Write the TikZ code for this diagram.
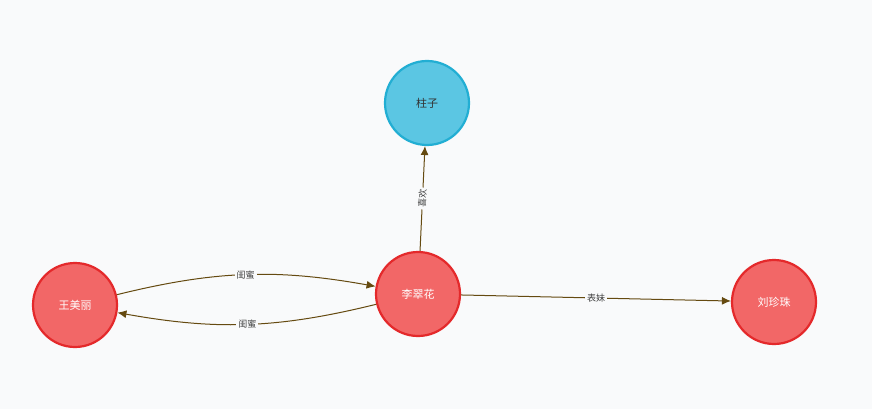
\documentclass[tikz,border=0pt]{standalone}
\usepackage{fontspec}
\setmainfont{Noto Sans CJK SC}
\usetikzlibrary{arrows.meta}
\definecolor{bg}{HTML}{F9FAFB}
\definecolor{rfill}{HTML}{F26767}
\definecolor{rdraw}{HTML}{E4292B}
\definecolor{bfill}{HTML}{5BC6E3}
\definecolor{bdraw}{HTML}{22AED3}
\definecolor{edge}{HTML}{654A10}
\tikzset{
 rnode/.style={circle,minimum size=84pt,inner sep=0pt,fill=rfill,draw=rdraw,line width=2.2pt,text=white,font=\fontsize{11}{13}\selectfont},
 bnode/.style={circle,minimum size=84pt,inner sep=0pt,fill=bfill,draw=bdraw,line width=2.2pt,text=black!80,font=\fontsize{11}{13}\selectfont},
 rel/.style={draw=edge,line width=1pt,-{Latex[length=9pt,width=8pt]}},
 lab/.style={fill=bg,inner sep=2pt,text=black!75,font=\fontsize{9}{11}\selectfont}
}
\begin{document}
\begin{tikzpicture}[x=1pt,y=-1pt]
\fill[bg] (0,0) rectangle (872,409);
\useasboundingbox (0,0) rectangle (872,409);
\node[bnode] (zz) at (427,103) {柱子};
\node[rnode] (lch) at (418,294) {李翠花};
\node[rnode] (wml) at (75,305) {王美丽};
\node[rnode] (lzz) at (774,302) {刘珍珠};
\draw[rel] (lch) -- node[lab,sloped] {喜欢} (zz);
\draw[rel] (wml) to[bend left=12] node[lab] {闺蜜} (lch);
\draw[rel] (lch) to[bend left=12] node[lab] {闺蜜} (wml);
\draw[rel] (lch) -- node[lab] {表妹} (lzz);
\end{tikzpicture}
\end{document}
